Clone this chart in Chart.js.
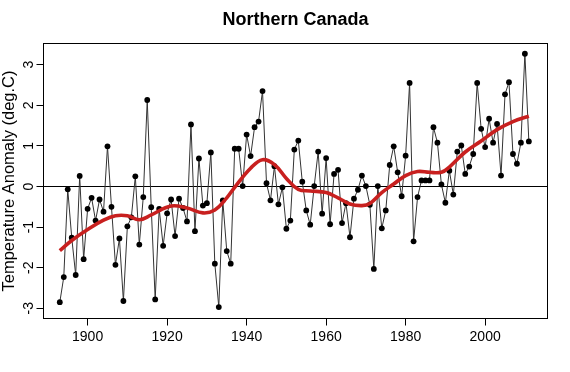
<!DOCTYPE html>
<html>
<head>
<meta charset="utf-8">
<script src="https://cdn.jsdelivr.net/npm/chart.js@4.4.1/dist/chart.umd.min.js"></script>
<style>
html,body{margin:0;padding:0;background:#fff;}
#wrap{width:570px;height:372px;}
canvas{display:block;}
</style>
</head>
<body>
<div id="wrap"><canvas id="c" width="570" height="372"></canvas></div>
<script>
const years = [1893,1894,1895,1896,1897,1898,1899,1900,1901,1902,1903,1904,1905,1906,1907,1908,1909,1910,1911,1912,1913,1914,1915,1916,1917,1918,1919,1920,1921,1922,1923,1924,1925,1926,1927,1928,1929,1930,1931,1932,1933,1934,1935,1936,1937,1938,1939,1940,1941,1942,1943,1944,1945,1946,1947,1948,1949,1950,1951,1952,1953,1954,1955,1956,1957,1958,1959,1960,1961,1962,1963,1964,1965,1966,1967,1968,1969,1970,1971,1972,1973,1974,1975,1976,1977,1978,1979,1980,1981,1982,1983,1984,1985,1986,1987,1988,1989,1990,1991,1992,1993,1994,1995,1996,1997,1998,1999,2000,2001,2002,2003,2004,2005,2006,2007,2008,2009,2010,2011];
const anomaly = [-2.85,-2.23,-0.07,-1.26,-2.18,0.26,-1.79,-0.55,-0.28,-0.84,-0.32,-0.62,0.99,-0.50,-1.93,-1.28,-2.82,-0.98,-0.76,0.25,-1.43,-0.26,2.13,-0.51,-2.78,-0.55,-1.46,-0.66,-0.32,-1.22,-0.30,-0.53,-0.86,1.53,-1.10,0.69,-0.47,-0.41,0.84,-1.90,-2.97,-0.34,-1.59,-1.90,0.93,0.93,0.01,1.28,0.75,1.46,1.60,2.35,0.08,-0.34,0.50,-0.44,-0.02,-1.04,-0.84,0.91,1.13,0.12,-0.59,-0.94,0.01,0.86,-0.67,0.70,-0.93,0.31,0.41,-0.90,-0.41,-1.25,-0.30,-0.08,0.27,0.01,-0.45,-2.03,0.01,-1.03,-0.59,0.53,0.99,0.35,-0.24,0.76,2.55,-1.35,-0.26,0.15,0.15,0.15,1.46,1.08,0.05,-0.40,0.39,-0.20,0.86,1.01,0.31,0.49,0.80,2.55,1.42,0.97,1.67,1.08,1.54,0.27,2.27,2.57,0.80,0.56,1.08,3.27,1.11];
const smoothYears = [1893,1896,1900,1904,1907,1910,1913,1916,1921,1925,1929,1932,1935,1937,1941,1944,1947,1950,1953,1956,1960,1963,1966,1969,1971,1974,1977,1980,1983,1986,1989,1991,1995,1999,2003,2007,2011];
const smoothValues = [-1.58,-1.33,-1.06,-0.83,-0.72,-0.72,-0.82,-0.70,-0.48,-0.53,-0.65,-0.58,-0.28,-0.02,0.45,0.66,0.54,0.20,-0.07,-0.11,-0.15,-0.28,-0.43,-0.47,-0.42,-0.15,0.06,0.27,0.37,0.35,0.35,0.48,0.85,1.12,1.40,1.60,1.73];
const xTicks = [1900,1920,1940,1960,1980,2000];
const yTicks = [-3,-2,-1,0,1,2,3];

const FONT = "'Liberation Sans', Arial, sans-serif";

const framePlugin = {
  id: 'frame',
  beforeDatasetsDraw(chart) {
    const {ctx, chartArea: a, scales: {y}} = chart;
    const y0 = y.getPixelForValue(0);
    ctx.save();
    ctx.strokeStyle = '#000';
    ctx.lineWidth = 1;
    ctx.beginPath();
    ctx.moveTo(a.left, y0);
    ctx.lineTo(a.right, y0);
    ctx.stroke();
    ctx.restore();
  },
  afterDraw(chart) {
    const {ctx, chartArea: a} = chart;
    ctx.save();
    ctx.strokeStyle = '#000';
    ctx.lineWidth = 1;
    ctx.strokeRect(a.left, a.top, a.right - a.left, a.bottom - a.top);
    ctx.restore();
  }
};

new Chart(document.getElementById('c'), {
  type: 'line',
  data: {
    datasets: [
      {
        label: 'Smoothed',
        data: smoothYears.map((yr, i) => ({x: yr, y: smoothValues[i]})),
        borderColor: '#c8201f',
        borderWidth: 3.6,
        pointRadius: 0,
        tension: 0.4,
        fill: false,
        order: 0
      },
      {
        label: 'Annual anomaly',
        data: years.map((yr, i) => ({x: yr, y: anomaly[i]})),
        borderColor: '#333',
        borderWidth: 1,
        pointRadius: 2.9,
        pointBackgroundColor: '#000',
        pointBorderWidth: 0,
        tension: 0,
        fill: false,
        order: 1
      }
    ]
  },
  options: {
    responsive: false,
    animation: false,
    devicePixelRatio: 1,
    layout: {padding: {left: 0, right: 22.5, top: 0, bottom: 0}},
    plugins: {
      legend: {display: false},
      tooltip: {enabled: false},
      title: {
        display: true,
        text: 'Northern Canada',
        fullSize: false,
        color: '#000',
        font: {family: FONT, size: 18, weight: 'bold'},
        padding: {top: 9.5, bottom: 12.4}
      }
    },
    scales: {
      x: {
        type: 'linear',
        position: 'bottom',
        min: 1888.9,
        max: 2015.69,
        afterBuildTicks: s => { s.ticks = xTicks.map(v => ({value: v})); },
        afterFit: s => { s.height = 53.5; },
        ticks: {
          color: '#000',
          font: {family: FONT, size: 14},
          padding: 3,
          maxRotation: 0,
          autoSkip: false,
          callback: v => String(v)
        },
        grid: {display: true, drawOnChartArea: false, drawTicks: true, tickLength: 7, color: '#000', lineWidth: 1},
        border: {display: false}
      },
      y: {
        type: 'linear',
        position: 'left',
        min: -3.251,
        max: 3.522,
        afterBuildTicks: s => { s.ticks = yTicks.map(v => ({value: v})); },
        afterFit: s => { s.width = 43.5; },
        ticks: {
          color: '#000',
          font: {family: FONT, size: 14},
          padding: 1,
          minRotation: 90,
          maxRotation: 90,
          crossAlign: 'center',
          autoSkip: false,
          callback: v => String(v)
        },
        grid: {display: true, drawOnChartArea: false, drawTicks: true, tickLength: 7, color: '#000', lineWidth: 1},
        border: {display: false},
        title: {
          display: true,
          text: 'Temperature Anomaly (deg.C)',
          color: '#000',
          font: {family: FONT, size: 16.5},
          padding: {top: 0, bottom: 0}
        }
      }
    }
  },
  plugins: [framePlugin]
});
</script>
</body>
</html>
